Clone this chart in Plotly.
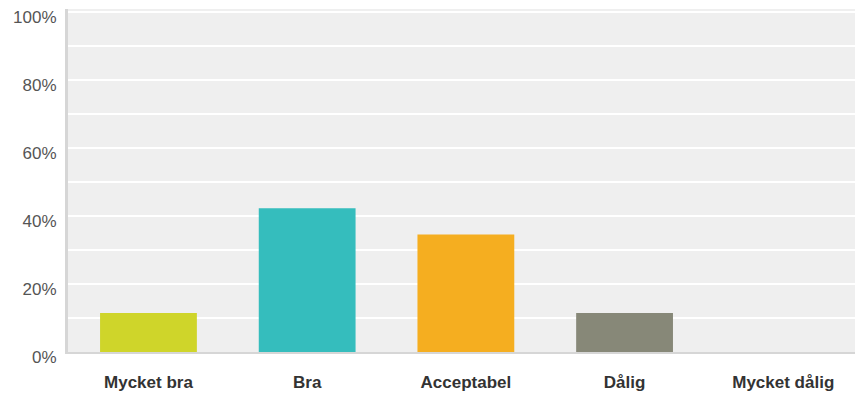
import plotly.graph_objects as go

categories = ["Mycket bra", "Bra", "Acceptabel", "Dålig", "Mycket dålig"]
values = [11.5, 42.3, 34.6, 11.5, 0]
colors = ["#cfd52a", "#35bdbd", "#f5ae20", "#878878", "#9a9a9a"]

fig = go.Figure(go.Bar(
    x=categories, y=values, marker=dict(color=colors, line=dict(width=0)),
    width=0.61, hoverinfo="skip"))

fig.update_layout(
    width=855, height=398,
    margin=dict(l=68, r=0, t=9, b=46),
    paper_bgcolor="white", plot_bgcolor="#efefef",
    showlegend=False,
    font=dict(family="Liberation Sans, Arial, sans-serif"),
)
fig.update_yaxes(
    range=[0, 100.9], tickvals=[0, 20, 40, 60, 80, 100],
    ticktext=["0%", "20%", "40%", "60%", "80%", "100%"],
    showgrid=True, gridcolor="white", gridwidth=2,
    minor=dict(tickvals=[10, 30, 50, 70, 90], showgrid=True, gridcolor="white", gridwidth=2),
    zeroline=False, showline=True, linecolor="#d6d6d6", linewidth=3,
    tickfont=dict(size=17, color="#555555"), ticklabelstandoff=5,
    ticklabelshift=5,
)
fig.update_xaxes(
    range=[-0.507, 4.452],
    showgrid=False, showline=True, linecolor="#d6d6d6", linewidth=2,
    tickfont=dict(size=17, color="#333333", weight="bold"), ticklabelstandoff=14,
)
fig.write_html("out.html")
